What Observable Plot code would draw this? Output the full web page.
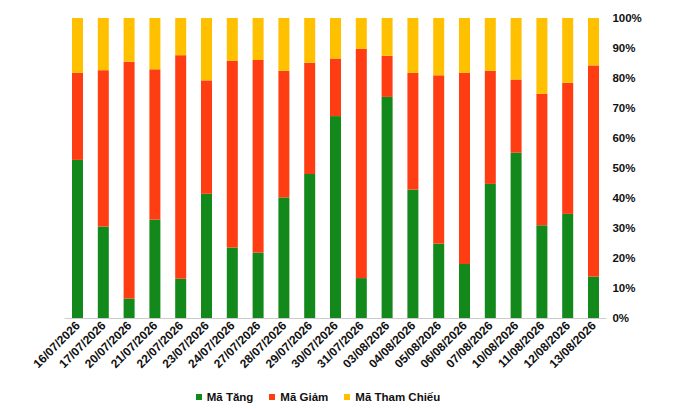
<!DOCTYPE html>
<html>
<head>
<meta charset="utf-8">
<script src="https://cdn.jsdelivr.net/npm/d3@7"></script>
<script src="https://cdn.jsdelivr.net/npm/@observablehq/plot@0.6"></script>
<style>
  body { margin: 0; background: #fff; font-family: Arial, "Liberation Sans", sans-serif; }
  #legend { display: flex; justify-content: center; align-items: center; height: 29px; padding-right: 39px; padding-top: 4px; box-sizing: border-box; font-weight: bold; font-size: 11.5px; color: #111; }
  .item { display: flex; align-items: center; margin: 0 8px; }
  .sw { width: 6px; height: 6px; margin-right: 5px; }
</style>
</head>
<body>
<div id="chart"></div>
<div id="legend"></div>
<script>
const dates = ["16/07/2026","17/07/2026","20/07/2026","21/07/2026","22/07/2026","23/07/2026","24/07/2026","27/07/2026","28/07/2026","29/07/2026","30/07/2026","31/07/2026","03/08/2026","04/08/2026","05/08/2026","06/08/2026","07/08/2026","10/08/2026","11/08/2026","12/08/2026","13/08/2026"];
const series = ["Mã Tăng", "Mã Giảm", "Mã Tham Chiếu"];
const colors = ["#12891a", "#ff3d12", "#ffc000"];
const tang   = [52.7, 30.5, 6.5, 32.8, 13.1, 41.4, 23.5, 21.8, 40.2, 48.0, 67.3, 13.3, 73.7, 42.8, 24.8, 18.0, 44.7, 55.1, 30.9, 34.7, 13.8];
const giam   = [29.0, 52.1, 78.9, 50.1, 74.5, 37.8, 62.2, 64.2, 42.2, 37.1, 19.2, 76.4, 13.7, 38.9, 56.1, 63.7, 37.7, 24.4, 43.8, 43.7, 70.4];
const thamChieu = [18.3, 17.4, 14.6, 17.1, 12.4, 20.8, 14.3, 14.0, 17.6, 14.9, 13.5, 10.3, 12.6, 18.3, 19.1, 18.3, 17.6, 20.5, 25.3, 21.6, 15.8];
const yTicks = [0, 10, 20, 30, 40, 50, 60, 70, 80, 90, 100];

const valuesBySeries = [tang, giam, thamChieu];
const data = [];
dates.forEach((d, i) => {
  series.forEach((s, j) => data.push({date: d, series: s, value: valuesBySeries[j][i]}));
});

const chart = Plot.plot({
  width: 675,
  height: 380,
  marginTop: 18,
  marginBottom: 62,
  marginLeft: 64.6,
  marginRight: 68.6,
  style: {fontFamily: "Arial, 'Liberation Sans', sans-serif", fontWeight: "bold", fontSize: "11.5px", color: "#111", background: "#fff"},
  x: {domain: dates, paddingInner: 0.574, paddingOuter: 0.287, round: false, label: null},
  y: {domain: [0, 100], label: null},
  color: {domain: series, range: colors},
  marks: [
    Plot.barY(data, Plot.stackY({x: "date", y: "value", fill: "series", order: null})),
    Plot.ruleY([0], {stroke: "#cccccc", strokeWidth: 1}),
    Plot.axisY({anchor: "right", ticks: yTicks, tickSize: 0, tickPadding: 5.5, tickFormat: d => d + "%", label: null, fontSize: 11.5, fontWeight: "bold"}),
    Plot.axisX({tickRotate: -45, tickSize: 0, tickPadding: 5, label: null, fontSize: 12, fontWeight: "bold"})
  ]
});
document.getElementById("chart").appendChild(chart);

const legend = document.getElementById("legend");
series.forEach((s, i) => {
  const it = document.createElement("div");
  it.className = "item";
  const sw = document.createElement("span");
  sw.className = "sw";
  sw.style.background = colors[i];
  const t = document.createElement("span");
  t.textContent = s;
  it.appendChild(sw); it.appendChild(t);
  legend.appendChild(it);
});
</script>
</body>
</html>
